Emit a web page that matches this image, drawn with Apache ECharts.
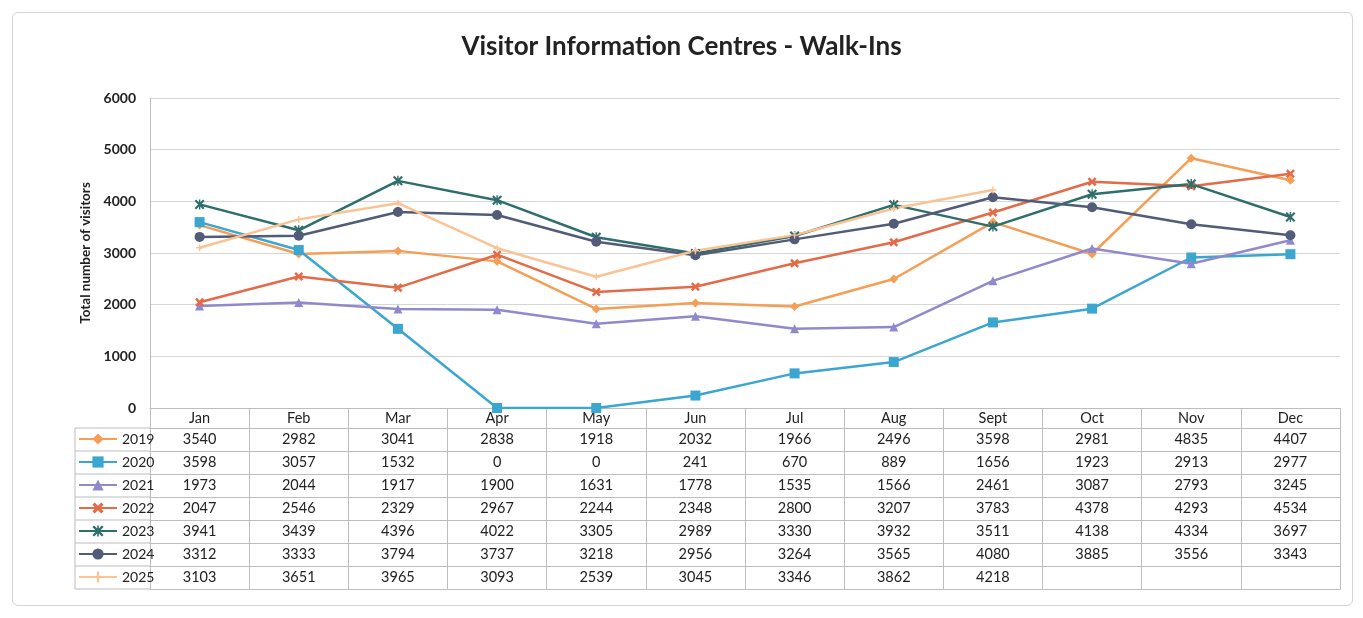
<!DOCTYPE html>
<html>
<head>
<meta charset="utf-8">
<script src="https://cdn.jsdelivr.net/npm/echarts@6/dist/echarts.min.js"></script>
<style>
  html, body { margin: 0; padding: 0; background: #fff; }
  #wrap { position: relative; width: 1363px; height: 618px; }
  #frame { position: absolute; left: 12px; top: 12px; width: 1341px; height: 594px; border: 1px solid #d4d4d4; border-radius: 6px; box-sizing: border-box; }
  #chart { position: absolute; left: 0; top: 0; width: 1363px; height: 618px; }
</style>
</head>
<body>
<div id="wrap"><div id="frame"></div><div id="chart"></div></div>
<script>
// ---- data ----
const months = ['Jan', 'Feb', 'Mar', 'Apr', 'May', 'Jun', 'Jul', 'Aug', 'Sept', 'Oct', 'Nov', 'Dec'];
const years = ['2019', '2020', '2021', '2022', '2023', '2024', '2025'];
const v2019 = [3540, 2982, 3041, 2838, 1918, 2032, 1966, 2496, 3598, 2981, 4835, 4407];
const v2020 = [3598, 3057, 1532, 0, 0, 241, 670, 889, 1656, 1923, 2913, 2977];
const v2021 = [1973, 2044, 1917, 1900, 1631, 1778, 1535, 1566, 2461, 3087, 2793, 3245];
const v2022 = [2047, 2546, 2329, 2967, 2244, 2348, 2800, 3207, 3783, 4378, 4293, 4534];
const v2023 = [3941, 3439, 4396, 4022, 3305, 2989, 3330, 3932, 3511, 4138, 4334, 3697];
const v2024 = [3312, 3333, 3794, 3737, 3218, 2956, 3264, 3565, 4080, 3885, 3556, 3343];
const v2025 = [3103, 3651, 3965, 3093, 2539, 3045, 3346, 3862, 4218, null, null, null];
const yTicks = { min: 0, max: 6000, interval: 1000 };

const seriesValues = [v2019, v2020, v2021, v2022, v2023, v2024, v2025];

// ---- styling ----
const colors = ['#F59E55', '#3BA6CF', '#9089CC', '#E36B47', '#2E6E6C', '#525B78', '#FBC393'];
const xPath = 'path://M2,0L5,3L8,0L10,2L7,5L10,8L8,10L5,7L2,10L0,8L3,5L0,2Z';
const starPath = 'path://M1.5,0L5,3.5L8.5,0L10,1.5L6.5,5L10,8.5L8.5,10L5,6.5L1.5,10L0,8.5L3.5,5L0,1.5ZM4.3,0H5.7V10H4.3Z';
const plusPath = 'path://M4,0H6V4H10V6H6V10H4V6H0V4H4Z';
const symbols = ['diamond', 'rect', 'triangle', xPath, starPath, 'circle', plusPath];
const symbolSizes = [9, 10, 9, 9, 10, 10, 7];

const W = 1363, H = 618;
const GRID_LEFT = 150, GRID_RIGHT_X = 1340, GRID_TOP = 98, GRID_BOTTOM_Y = 408;
const HEADER_H = 20, ROW_H = 23;
const LEG_LEFT = 75;
const border = '#bdbdbd';
const font = 'Lato, "Open Sans", sans-serif';
const tableFont = 14.5;

const xAxes = [{
  type: 'category', data: months, boundaryGap: true, position: 'bottom',
  axisLine: { show: true, lineStyle: { color: border } },
  axisTick: { show: true, interval: 0, length: HEADER_H, lineStyle: { color: border } },
  axisLabel: { interval: 0, margin: 3, fontSize: tableFont, color: '#222', fontFamily: font }
}];
seriesValues.forEach((vals, k) => {
  xAxes.push({
    type: 'category', data: months, boundaryGap: true, position: 'bottom',
    offset: HEADER_H + ROW_H * k,
    axisLine: { show: true, lineStyle: { color: border } },
    axisTick: { show: true, interval: 0, length: ROW_H, lineStyle: { color: border } },
    axisLabel: {
      interval: 0, margin: 4, fontSize: tableFont, color: '#222', fontFamily: font,
      formatter: (v, i) => (vals[i] == null ? '' : String(vals[i]))
    }
  });
});
xAxes.push({
  type: 'category', data: months, boundaryGap: true, position: 'bottom',
  offset: HEADER_H + ROW_H * seriesValues.length,
  axisLine: { show: true, lineStyle: { color: border } },
  axisTick: { show: false }, axisLabel: { show: false }
});

// legend column borders (table decoration)
const graphics = [];
const tableTop = GRID_BOTTOM_Y + HEADER_H;
const tableBottom = tableTop + ROW_H * seriesValues.length;
graphics.push({ type: 'line', shape: { x1: LEG_LEFT, y1: tableTop, x2: LEG_LEFT, y2: tableBottom }, style: { stroke: border, lineWidth: 1 } });
for (let k = 0; k <= seriesValues.length; k++) {
  const y = tableTop + ROW_H * k;
  graphics.push({ type: 'line', shape: { x1: LEG_LEFT, y1: y, x2: GRID_LEFT, y2: y }, style: { stroke: border, lineWidth: 1 } });
}

const chart = echarts.init(document.getElementById('chart'), null, { renderer: 'canvas' });
chart.setOption({
  backgroundColor: 'transparent',
  animation: false,
  color: colors,
  title: {
    text: 'Visitor Information Centres - Walk-Ins', left: 'center', top: 29,
    textStyle: { fontSize: 26, fontWeight: 'bold', color: '#222', fontFamily: font }
  },
  legend: {
    data: years, orient: 'vertical', left: LEG_LEFT + 3, top: tableTop + 4,
    itemGap: 9, itemWidth: 38, itemHeight: 14, selectedMode: false, padding: 0,
    textStyle: { fontSize: 14, color: '#222', fontFamily: font }
  },
  grid: { left: GRID_LEFT, right: W - GRID_RIGHT_X, top: GRID_TOP, bottom: H - GRID_BOTTOM_Y, containLabel: false },
  xAxis: xAxes,
  yAxis: {
    type: 'value', min: yTicks.min, max: yTicks.max, interval: yTicks.interval,
    name: 'Total number of visitors', nameLocation: 'middle', nameGap: 56, nameRotate: 90,
    nameTextStyle: { fontSize: 13.5, fontWeight: 'bold', color: '#222', fontFamily: font },
    axisLine: { show: true, lineStyle: { color: border } },
    axisTick: { show: false },
    axisLabel: { fontSize: 14, fontWeight: 'bold', color: '#222', margin: 14, fontFamily: font, formatter: v => String(v) },
    splitLine: { lineStyle: { color: '#d6d6d6' } }
  },
  graphic: graphics,
  series: seriesValues.map((vals, k) => ({
    name: years[k], type: 'line', xAxisIndex: 0, data: vals,
    symbol: symbols[k], symbolSize: symbolSizes[k], showAllSymbol: true,
    lineStyle: { width: 2.5, color: colors[k] },
    itemStyle: { color: colors[k] },
    connectNulls: false
  }))
});
</script>
</body>
</html>
